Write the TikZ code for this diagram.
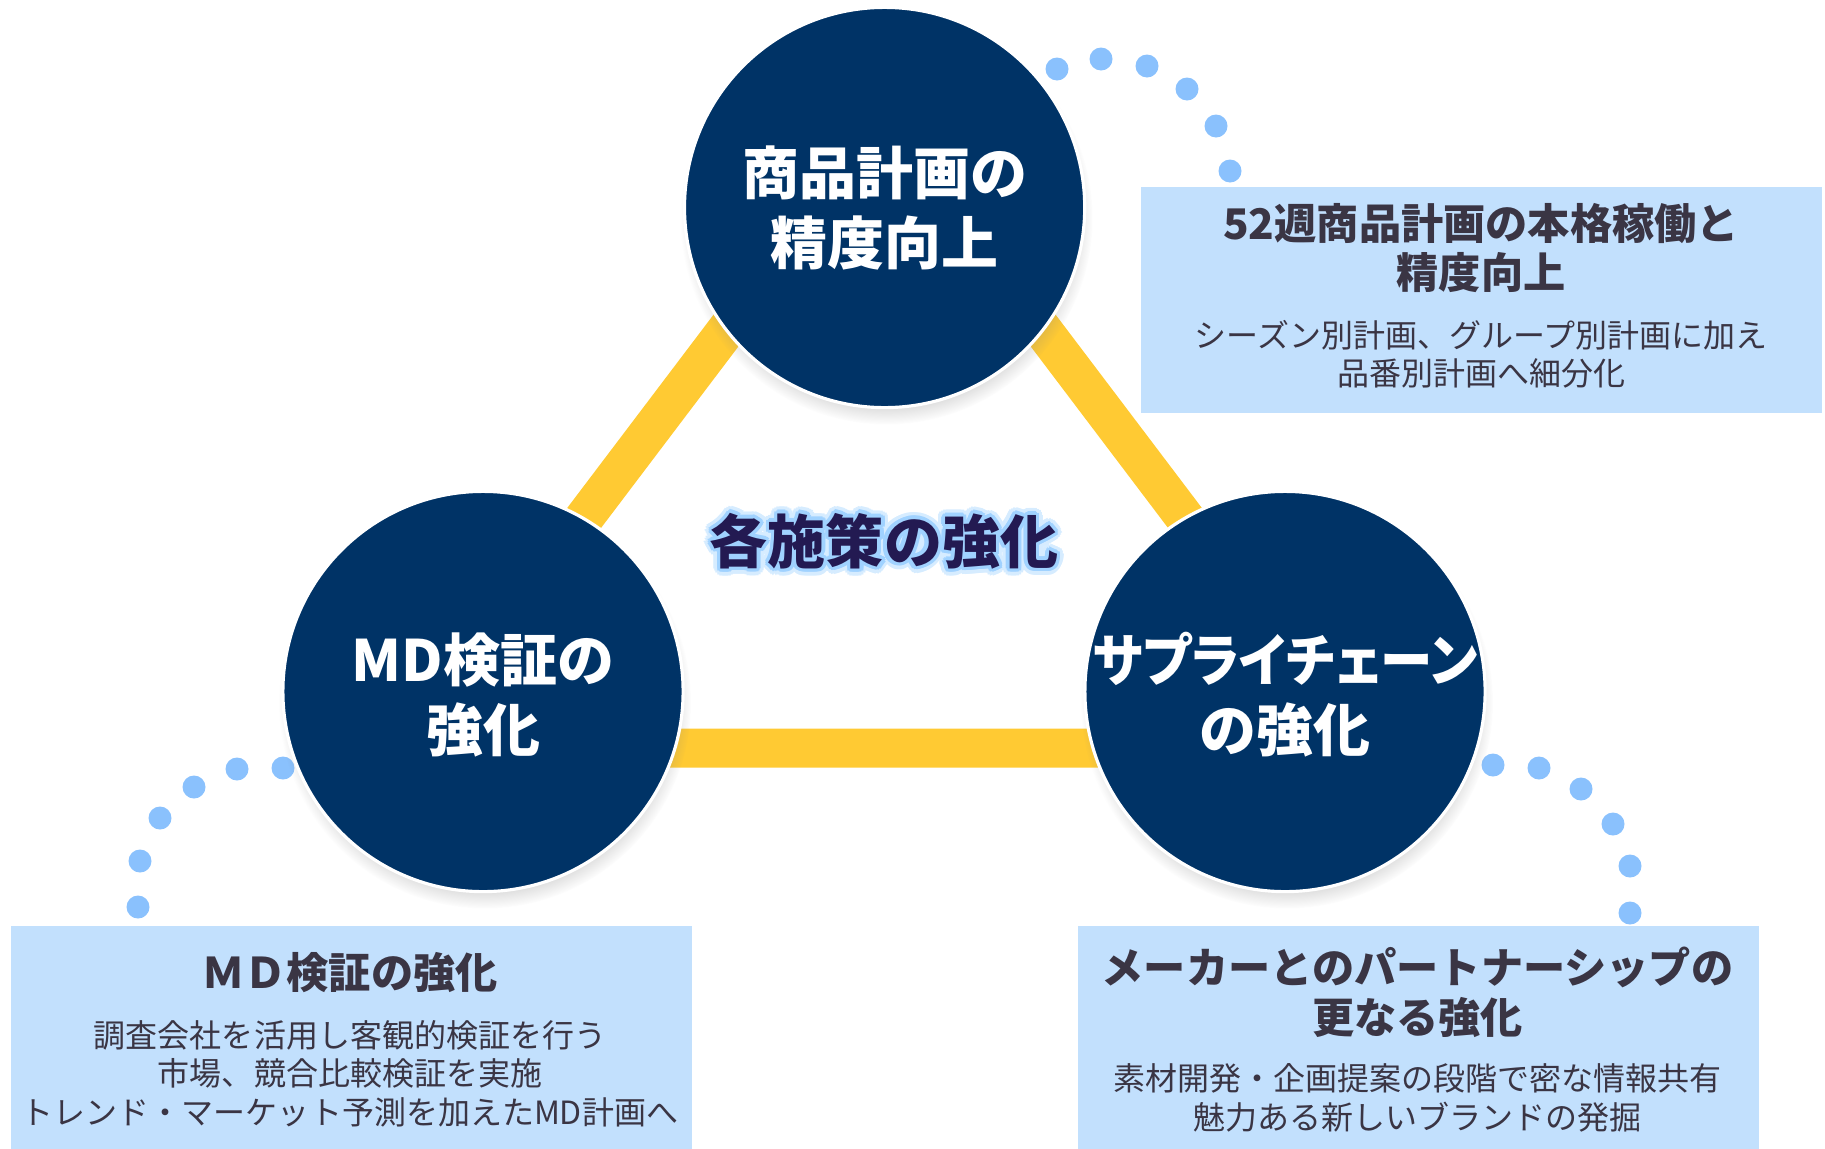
\documentclass[tikz,border=0pt]{standalone}
\usepackage{fontspec}
\usepackage{graphicx}
\setmainfont{Noto Sans CJK JP}
\newfontfamily\kanaprop{Noto Sans CJK JP}[RawFeature=+palt]
\usetikzlibrary{shadows,calc}

\definecolor{hubnavy}{RGB}{0,51,102}
\definecolor{bandyellow}{RGB}{255,202,51}
\definecolor{dotblue}{RGB}{138,193,253}
\definecolor{boxblue}{RGB}{194,224,253}
\definecolor{inkgray}{RGB}{58,53,68}
\definecolor{hubink}{RGB}{35,26,82}
\definecolor{glowblue}{RGB}{160,210,255}
\definecolor{glowpale}{RGB}{214,236,255}

\tikzset{
	hubcircle/.style={circle, fill=hubnavy, draw=white, line width=0.9pt, minimum size=4cm, inner sep=0pt,
		circular drop shadow={shadow scale=1.03, shadow xshift=0.5pt, shadow yshift=-3pt, opacity=0.45}},
	hubtext/.style={text=white, align=center, font=\bfseries\fontsize{16.2pt}{19.9pt}\selectfont},
	band/.style={draw=bandyellow, line width=0.39cm, line join=miter},
	infobox/.style={fill=boxblue, inner sep=0pt, anchor=north west},
	boxhead/.style={text=inkgray, align=center, font=\bfseries\fontsize{12pt}{14.2pt}\selectfont},
	boxbody/.style={text=inkgray, align=center, font=\fontsize{9.1pt}{10.9pt}\selectfont},
	centertext/.style={font=\bfseries\fontsize{16.5pt}{18pt}\selectfont}
}

\begin{document}
\begin{tikzpicture}[x=0.01cm, y=-0.01cm]
	\useasboundingbox (0,0) rectangle (1825,1148);

	\foreach \x/\y in {1057/69, 1101/59, 1147/66, 1187/89, 1216/126, 1230/171,
		283/768, 237/769, 194/787, 160/818, 140/861, 138/907,
		1493/765, 1539/768, 1581/789, 1613/824, 1630/866, 1630/913}
		\fill[dotblue] (\x,\y) circle (11.5);

	\coordinate (apex) at (884.6,121);
	\coordinate (baseL) at (410,748);
	\coordinate (baseR) at (1359,748);
	\draw[band] (apex) -- (baseL) -- (baseR) -- cycle;

	\node[hubcircle] (plan) at (884.6,207.5) {};
	\node[hubcircle] (md) at (483,691.5) {};
	\node[hubcircle] (supply) at (1285,691.5) {};

	\node[hubtext] at (plan) {商品計画の\\精度向上};
	\node[hubtext, yshift=-1pt] at (md) {MD検証の\\強化};
	\node[hubtext, yshift=-1pt, font=\kanaprop\bfseries\fontsize{16.2pt}{19.9pt}\selectfont] at (supply) {\scalebox{0.92}[1]{サプライチェーン}\\の強化};

	\coordinate (hub) at (884,541);
	\foreach \a in {0,20,...,340}
		\node[centertext, text=glowpale] at ($(hub)+(\a:7)$) {各施策の強化};
	\foreach \a in {0,30,...,330}
		\node[centertext, text=glowblue] at ($(hub)+(\a:3.5)$) {各施策の強化};
	\node[centertext, text=hubink] (title) at (hub) {各施策の強化};

	\node[infobox, minimum width=6.804cm, minimum height=2.26cm] (planbox) at (1140.6,186) {};
	\node[infobox, minimum width=6.81cm, minimum height=2.24cm] (mdbox) at (10,925) {};
	\node[infobox, minimum width=6.806cm, minimum height=2.24cm] (supplybox) at (1077,925) {};

	\node[boxhead] at (1481,248) {52週商品計画の本格稼働と\\精度向上};
	\node[boxbody] at (1481,354) {シーズン別計画、グループ別計画に加え\\品番別計画へ細分化};

	\node[boxhead] at (350,973) {ＭＤ検証の強化};
	\node[boxbody] at (350,1073.5) {調査会社を活用し客観的検証を行う\\市場、競合比較検証を実施\\トレンド・マーケット予測を加えたMD計画へ};

	\node[boxhead] at (1417.5,992) {メーカーとのパートナーシップの\\更なる強化};
	\node[boxbody] at (1417.5,1098) {素材開発・企画提案の段階で密な情報共有\\魅力ある新しいブランドの発掘};
\end{tikzpicture}
\end{document}
